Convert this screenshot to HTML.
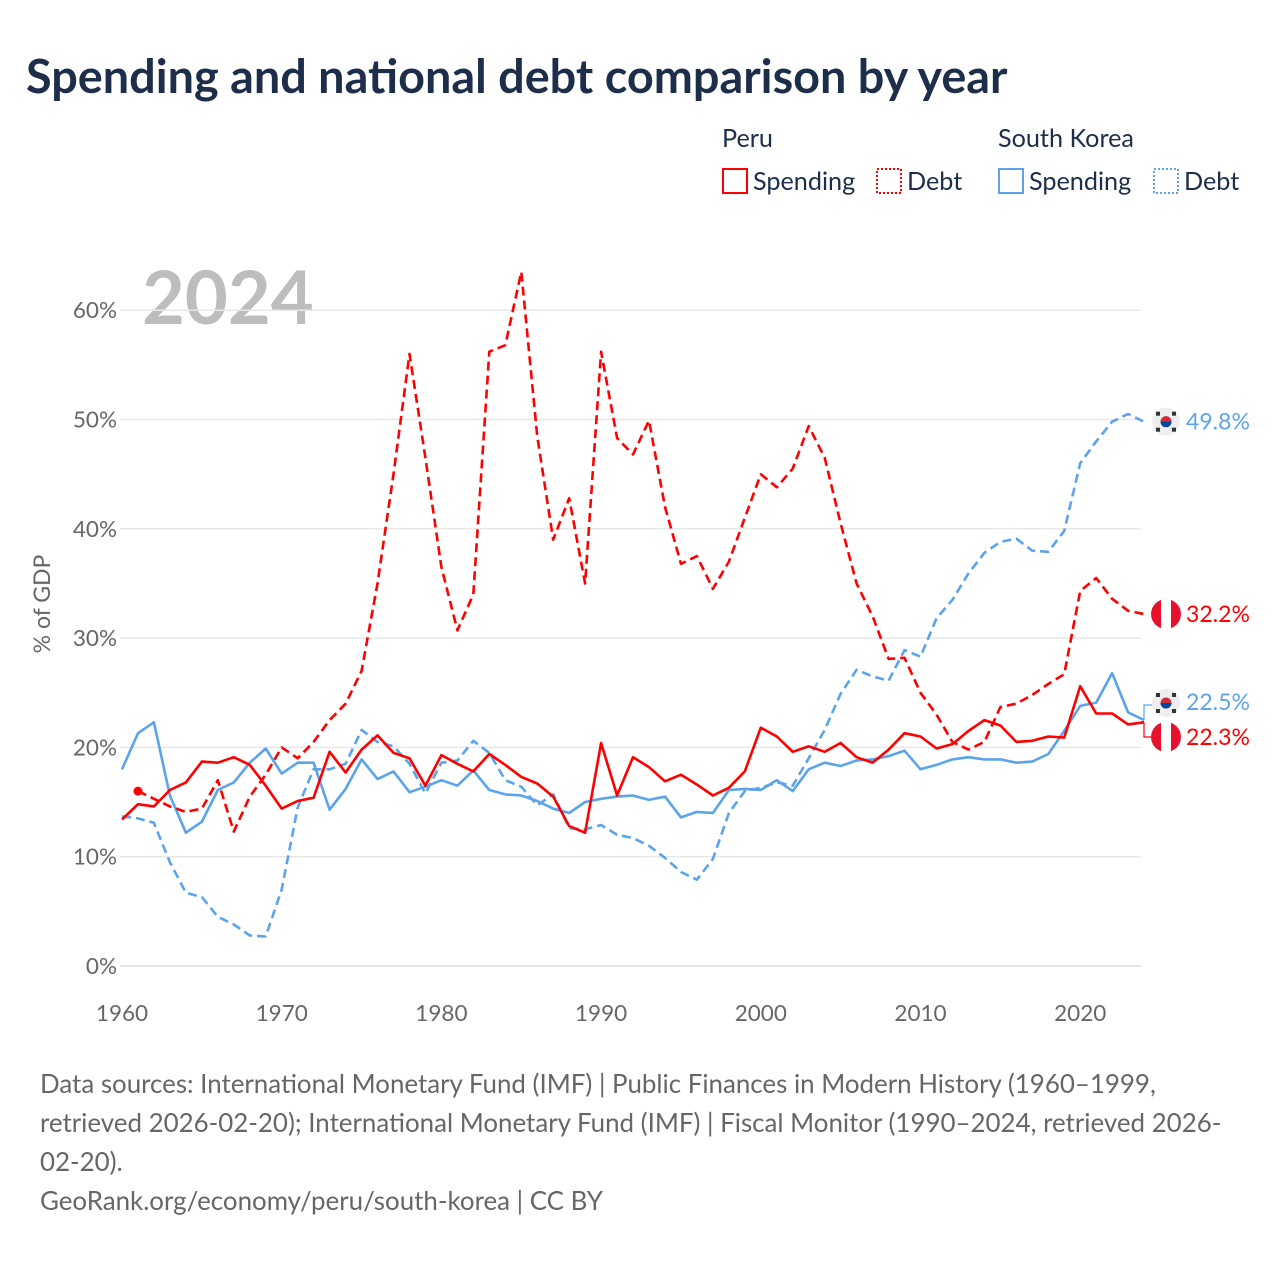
<!DOCTYPE html>
<html><head><meta charset="utf-8"><style>
body{margin:0;background:#fff;font-family:"Liberation Sans",sans-serif;}
svg text{font-family:"Lato","Liberation Sans",sans-serif;}
</style></head><body>
<svg id="chart" width="1280" height="1280" viewBox="0 0 1280 1280" xmlns="http://www.w3.org/2000/svg">
<text x="26" y="93" font-size="46.8" font-weight="bold" fill="#1c2e4a">Spending and national debt comparison by year</text>
<g font-size="25.2" fill="#1c2e4a">
<text x="722" y="147">Peru</text>
<text x="998" y="147">South Korea</text>
<g><rect x="723" y="169" width="24" height="24" fill="none" stroke="#f00" stroke-width="2"/><text x="753" y="190">Spending</text></g>
<g><rect x="877" y="169" width="24" height="24" fill="none" stroke="#f00" stroke-width="2" stroke-dasharray="2,2"/><text x="907" y="190">Debt</text></g>
<g><rect x="999" y="169" width="24" height="24" fill="none" stroke="#5ba4ec" stroke-width="2"/><text x="1029" y="190">Spending</text></g>
<g><rect x="1154" y="169" width="24" height="24" fill="none" stroke="#5ba4ec" stroke-width="2" stroke-dasharray="2,2"/><text x="1184" y="190">Debt</text></g>
</g>
<text x="142" y="324" font-size="74" font-weight="bold" fill="#bdbdbd">2024</text>
<g id="grid"></g><g id="series"></g><g id="ends"></g>
<text transform="translate(50,604) rotate(-90)" text-anchor="middle" font-size="23" fill="#666">% of GDP</text>
<g font-size="25.9" fill="#666">
<text x="40" y="1093">Data sources: International Monetary Fund (IMF) | Public Finances in Modern History (1960–1999,</text>
<text x="40" y="1132">retrieved 2026-02-20); International Monetary Fund (IMF) | Fiscal Monitor (1990–2024, retrieved 2026-</text>
<text x="40" y="1171">02-20).</text>
<text x="40" y="1210">GeoRank.org/economy/peru/south-korea | CC BY</text>
</g>
</svg>
<script>
const startYear = 1960;
const yTicks = [0,10,20,30,40,50,60];
const xTicks = [1960,1970,1980,1990,2000,2010,2020];
const peruSpending = [13.4,14.8,14.6,16.1,16.8,18.7,18.6,19.1,18.4,16.5,14.4,15.1,15.4,19.6,17.7,19.8,21.1,19.5,19.0,16.5,19.3,18.5,17.8,19.4,18.4,17.3,16.7,15.5,12.8,12.2,20.4,15.6,19.1,18.2,16.9,17.5,16.6,15.6,16.3,17.8,21.8,21.0,19.6,20.1,19.6,20.4,19.1,18.6,19.8,21.3,21.0,19.9,20.3,21.5,22.5,22.0,20.5,20.6,21.0,20.9,25.6,23.1,23.1,22.1,22.3];
const peruDebt = [null,16.0,15.3,14.6,14.1,14.4,17.0,12.3,15.5,17.5,20.0,19.0,20.5,22.5,24.0,27.0,35.0,45.0,56.0,46.5,36.5,30.7,34.0,56.2,56.8,63.5,48.5,39.0,42.8,35.0,56.2,48.3,46.8,49.9,42.0,36.8,37.5,34.5,37.0,41.0,45.0,43.8,45.5,49.4,46.5,40.5,35.0,32.0,28.1,28.2,25.0,23.0,20.5,19.8,20.5,23.7,24.0,24.8,25.8,26.7,34.3,35.5,33.6,32.5,32.2];
const koreaSpending = [18.0,21.3,22.3,15.6,12.2,13.2,16.1,16.8,18.6,19.9,17.6,18.6,18.6,14.3,16.2,18.9,17.1,17.8,15.9,16.4,17.0,16.5,17.9,16.1,15.7,15.6,15.1,14.4,14.0,15.0,15.3,15.5,15.6,15.2,15.5,13.6,14.1,14.0,16.1,16.2,16.1,17.0,16.0,18.0,18.6,18.3,18.8,18.9,19.2,19.7,18.0,18.4,18.9,19.1,18.9,18.9,18.6,18.7,19.4,21.5,23.8,24.1,26.8,23.2,22.5];
const koreaDebt = [13.7,13.5,13.1,9.5,6.7,6.3,4.5,3.8,2.8,2.7,7.0,14.5,18.0,18.0,18.5,21.6,20.5,20.1,18.5,15.8,18.6,18.8,20.6,19.5,17.0,16.4,14.7,15.7,12.6,12.5,12.9,12.0,11.7,11.0,9.9,8.6,7.9,9.8,14.0,16.0,16.3,16.8,16.5,19.0,21.6,24.9,27.1,26.5,26.1,28.9,28.3,31.8,33.5,35.9,37.8,38.8,39.1,38.0,37.9,39.8,46.0,48.0,49.8,50.5,49.8];
const NS="http://www.w3.org/2000/svg";
const X = yr => 122 + (yr-1960)*15.97;
const Y = v => 966 - v*10.93;
function mk(tag, attrs, parent){const e=document.createElementNS(NS,tag);for(const k in attrs)e.setAttribute(k,attrs[k]);parent.appendChild(e);return e;}
const grid=document.getElementById('grid');
yTicks.forEach(t=>{
  const l=mk('line',{x1:120,x2:1141,y1:Y(t),y2:Y(t),stroke:t===0?'#ddd':'#e8e8e8','stroke-width':1.5},grid);
  
  
  const tx=mk('text',{x:117,y:Y(t)+8,'text-anchor':'end','font-size':22.5,fill:'#666'},grid);
  tx.textContent=t+'%';
  
  
});
xTicks.forEach(t=>{
  const tx=mk('text',{x:X(t),y:1021,'text-anchor':'middle','font-size':22.5,fill:'#666'},grid);
  tx.textContent=t;
  
  
});
const ser=document.getElementById('series');
function line(arr,color,dash,name){
  let d='';let first=true;
  arr.forEach((v,i)=>{if(v==null)return;d+=(first?'M':'L')+X(startYear+i).toFixed(1)+','+Y(v).toFixed(1);first=false;});
  const p=mk('path',{d:d,fill:'none',stroke:color,'stroke-width':2.6,'stroke-linejoin':'round'},ser);
  if(dash)p.setAttribute('stroke-dasharray','9,5');
  
  
}
line(koreaDebt,'#5ba4ec',true,'korea-debt-line');
line(koreaSpending,'#5ba4ec',false,'korea-spending-line');
line(peruDebt,'#f00',true,'peru-debt-line');
line(peruSpending,'#f00',false,'peru-spending-line');
const dot=mk('circle',{cx:X(1961),cy:Y(peruDebt[1]),r:4.5,fill:'#f00'},ser);


const ends=document.getElementById('ends');
function flag(cy,kind,name){
  const g=mk('g',{},ends);
  
  
  if(kind==='kr'){
    mk('circle',{cx:1166,cy:cy,r:14,fill:'#eee'},g);
    mk('circle',{cx:1166,cy:cy,r:5.5,fill:'#cd2e3a'},g);
    mk('path',{d:`M${1160.5},${cy} a5.5,5.5 0 0 0 11,0 z`,fill:'#0047a0'},g);
    [[-8,-8],[8,-8],[-8,8],[8,8]].forEach(o=>mk('rect',{x:1166+o[0]-2,y:cy+o[1]-2,width:4,height:4,fill:'#333'},g));
  } else {
    mk('circle',{cx:1166,cy:cy,r:15,fill:'#e8112d'},g);
    mk('rect',{x:1161,y:cy-15,width:10,height:30,fill:'#fff'},g);
  }
}
function label(cy,txt,color,name){
  const t=mk('text',{x:1186,y:cy+8,'font-size':23,fill:color},ends);
  t.textContent=txt;
  
  
}
const kdL=koreaDebt[koreaDebt.length-1], pdL=peruDebt[peruDebt.length-1], ksL=koreaSpending[koreaSpending.length-1], psL=peruSpending[peruSpending.length-1];
flag(Y(kdL),'kr','korea-debt-flag'); label(Y(kdL),kdL.toFixed(1)+'%','#5ba4ec','korea-debt-end-label');
flag(Y(pdL),'pe','peru-debt-flag'); label(Y(pdL),pdL.toFixed(1)+'%','#f00','peru-debt-end-label');
const br1=mk('path',{d:`M1144,${Y(ksL)} L1144,705 L1152,705`,fill:'none',stroke:'#5ba4ec','stroke-width':1.2},ends);


const br2=mk('path',{d:`M1144,${Y(psL)} L1144,737 L1152,737`,fill:'none',stroke:'#f00','stroke-width':1.2},ends);


flag(703,'kr','korea-spending-flag'); label(702,ksL.toFixed(1)+'%','#5ba4ec','korea-spending-end-label');
flag(737,'pe','peru-spending-flag'); label(737,psL.toFixed(1)+'%','#f00','peru-spending-end-label');
</script>
</body></html>
